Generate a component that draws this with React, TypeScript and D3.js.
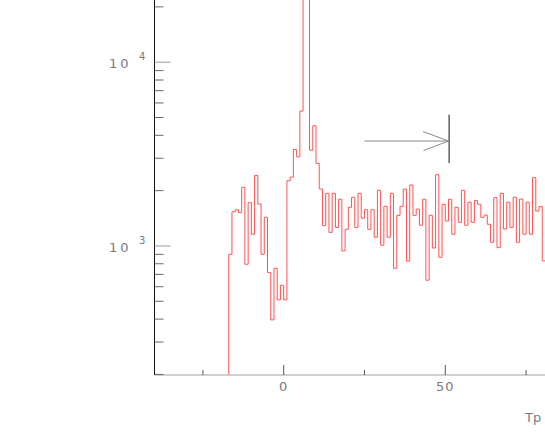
import React from "react";
import * as d3 from "d3";

// Histogram bins: left edge of each 1-unit bin (Tp) and its counts
const binStarts: number[] = [
  -18, -17, -16, -15, -14, -13, -12, -11, -10, -9, -8, -7, -6, -5, -4, -3, -2, -1,
  0, 1, 2, 3, 4, 5, 6, 7, 8, 9, 10, 11, 12, 13, 14, 15, 16, 17, 18, 19,
  20, 21, 22, 23, 24, 25, 26, 27, 28, 29, 30, 31, 32, 33, 34, 35, 36, 37, 38, 39,
  40, 41, 42, 43, 44, 45, 46, 47, 48, 49, 50, 51, 52, 53, 54, 55, 56, 57, 58, 59,
  60, 61, 62, 63, 64, 65, 66, 67, 68, 69, 70, 71, 72, 73, 74, 75, 76, 77, 78, 79, 80,
];
const counts: number[] = [
  100, 901, 1535, 1575, 1517, 2085, 795, 1719, 1158, 2421, 1691, 901, 1432, 716, 396, 756, 509, 611,
  509, 2264, 2370, 3350, 3054, 5420, 60000, 40000, 3320, 4510, 2812, 2041, 1289, 1933, 1186, 1933, 1262, 1795, 939, 1232,
  1623, 1841, 1262, 1933, 1415, 1575, 1232, 1575, 1115, 2009, 1009, 1644, 1115, 1933, 756, 1468, 1644, 2040, 826, 2146,
  1468, 1588, 1296, 1795, 651, 1468, 975, 2442, 868, 1686, 1367, 1795, 1158, 1623, 1345, 2009, 1296, 1729, 1345, 1765,
  1686, 1432, 1473, 1312, 1047, 1832, 979, 1933, 1237, 1729, 1262, 1841, 1047, 1800, 1158, 1729, 1158, 2354, 1549, 1637, 829,
];
const binWidth = 1;

const xMajorTicks: number[] = [0, 50];
const xMinorTicks: number[] = [-25, 25, 75];
const xTickLabels: string[] = ["0", "50"];
const yMajorTicks: number[] = [1000, 10000];
const yMajorExps: string[] = ["3", "4"];
const yMinorTicks: number[] = [200, 300, 400, 500, 600, 700, 800, 900, 2000, 3000, 4000, 5000, 6000, 7000, 8000, 9000, 20000];
const xTitle = "Tp";

// Marker: arrow pointing to a cut line
const arrowFrom: number[] = [25, 3724];
const arrowTo: number[] = [51, 3724];
const cutLineX = 51.2;
const cutLineRange: number[] = [2825, 5180];

const W = 545;
const H = 436;

export default function App() {
  const x = d3.scaleLinear().domain([-40, 100]).range([154.4, 154.4 + 140 * 3.232]);
  const y = d3.scaleLog().domain([200, 21800]).range([374.4, 0]);

  const pts: [number, number][] = binStarts.map((b, i) => [b, counts[i]]);
  pts.push([binStarts[binStarts.length - 1] + binWidth, counts[counts.length - 1]]);
  const line = d3
    .line<[number, number]>()
    .x((d) => x(d[0]))
    .y((d) => y(d[1]))
    .curve(d3.curveStepAfter);

  const axisY = 375;
  const axisX = 154.5;
  const labelFont = "'DejaVu Sans', 'Liberation Sans', sans-serif";

  const ax = x(arrowTo[0]);
  const ay = y(arrowTo[1]);

  return (
    <svg
      width={W}
      height={H}
      viewBox={`0 0 ${W} ${H}`}
      style={{ position: "absolute", left: 0, top: 0, background: "#fff" }}
    >
      <defs>
        <clipPath id="plotClip">
          <rect x={axisX} y={0} width={W - axisX} height={axisY - 0.8} />
        </clipPath>
      </defs>

      {/* histogram */}
      <path
        d={line(pts) || ""}
        fill="none"
        stroke="#ff5252"
        strokeWidth={1}
        clipPath="url(#plotClip)"
      />

      {/* arrow marker */}
      <g stroke="#8a8a8a" strokeWidth={1} fill="none">
        <line x1={x(arrowFrom[0])} y1={y(arrowFrom[1])} x2={ax} y2={ay} />
        <line x1={ax} y1={ay} x2={ax - 25.5} y2={ay - 9.5} />
        <line x1={ax} y1={ay} x2={ax - 25} y2={ay + 9.5} />
      </g>
      <line
        x1={x(cutLineX)}
        x2={x(cutLineX)}
        y1={y(cutLineRange[0])}
        y2={y(cutLineRange[1])}
        stroke="#6a6a6a"
        strokeWidth={1.6}
      />

      {/* x axis */}
      <line x1={axisX} x2={W} y1={axisY} y2={axisY} stroke="#a0a0a0" strokeWidth={1} />
      {xMajorTicks.map((t) => (
        <line key={"xM" + t} x1={x(t)} x2={x(t)} y1={axisY} y2={axisY - 10} stroke="#555" strokeWidth={1} />
      ))}
      {xMinorTicks.map((t) => (
        <line key={"xm" + t} x1={x(t)} x2={x(t)} y1={axisY} y2={axisY - 5} stroke="#555" strokeWidth={1} />
      ))}
      {xMajorTicks.map((t, i) => (
        <text
          key={"xl" + t}
          x={x(t)}
          y={391}
          textAnchor="middle"
          fontFamily={labelFont}
          fontSize={13}
          letterSpacing={1}
          fill="#7a7a7a"
        >
          {xTickLabels[i]}
        </text>
      ))}
      <text x={525} y={422} fontFamily={labelFont} fontSize={13} fill="#7a7a7a">
        {xTitle}
      </text>

      {/* y axis */}
      <line x1={axisX} x2={axisX} y1={0} y2={axisY} stroke="#111" strokeWidth={1} />
      {yMajorTicks.map((t) => (
        <line key={"yM" + t} x1={axisX} x2={axisX + 16} y1={y(t)} y2={y(t)} stroke="#9a9a9a" strokeWidth={1} />
      ))}
      {yMinorTicks.map((t) => (
        <line key={"ym" + t} x1={axisX} x2={axisX + 9} y1={y(t)} y2={y(t)} stroke="#6a6a6a" strokeWidth={1} />
      ))}
      {yMajorTicks.map((t, i) => (
        <g key={"yl" + t} fontFamily={labelFont} fill="#7a7a7a">
          <text x={109} y={y(t) + 6} fontSize={13} letterSpacing={3}>
            10
          </text>
          <text x={139} y={y(t) - 2} fontSize={10}>
            {yMajorExps[i]}
          </text>
        </g>
      ))}
    </svg>
  );
}
